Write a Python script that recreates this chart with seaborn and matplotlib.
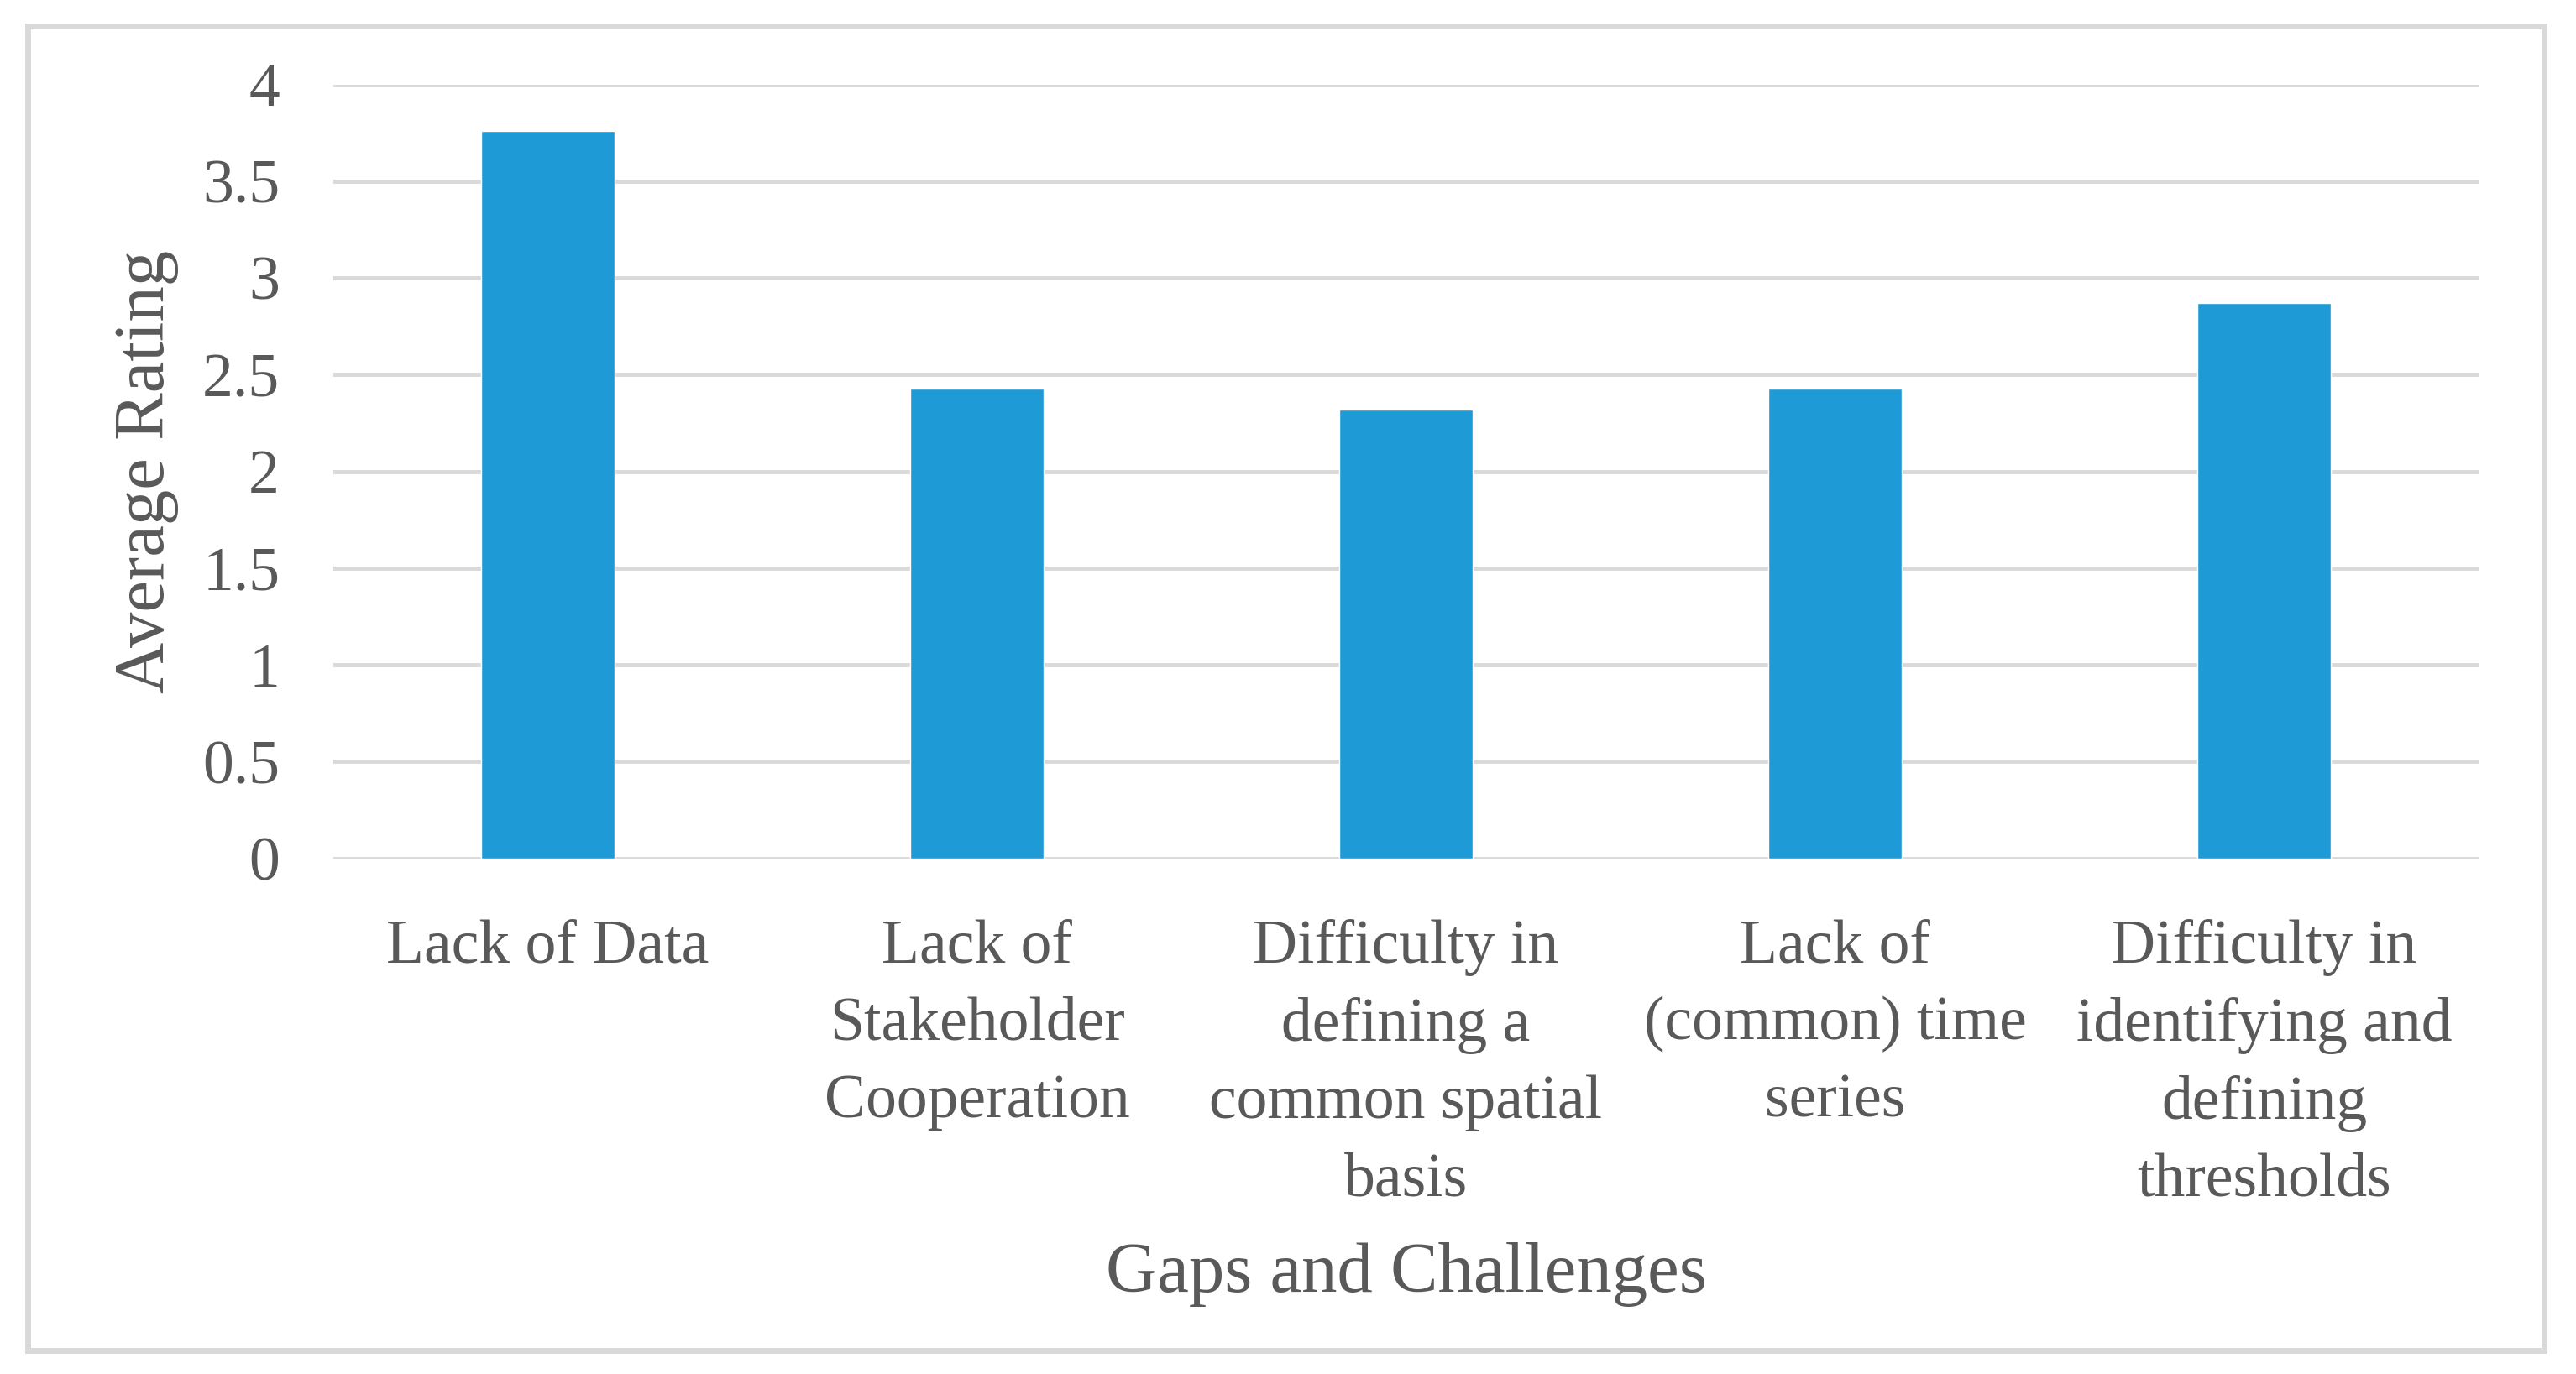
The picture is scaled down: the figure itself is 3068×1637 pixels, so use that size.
import matplotlib
matplotlib.use("Agg")
import matplotlib.pyplot as plt
import seaborn as sns
import pandas as pd
from matplotlib.patches import Rectangle

# data
categories = [
    "Lack of Data",
    "Lack of\nStakeholder\nCooperation",
    "Difficulty in\ndefining a\ncommon spatial\nbasis",
    "Lack of\n(common) time\nseries",
    "Difficulty in\nidentifying and\ndefining\nthresholds",
]
ratings = [3.76, 2.43, 2.32, 2.43, 2.87]
y_ticks = [0, 0.5, 1, 1.5, 2, 2.5, 3, 3.5, 4]
y_tick_labels = ["0", "0.5", "1", "1.5", "2", "2.5", "3", "3.5", "4"]

df = pd.DataFrame({"challenge": categories, "rating": ratings})

sns.set_style("white")
plt.rcParams["font.family"] = ["Liberation Serif", "DejaVu Serif"]
text_color = "#595959"
grid_color = "#d9d9d9"

fig = plt.figure(figsize=(30.68, 16.37), dpi=100)
ax = fig.add_axes([0.1294, 0.3753, 0.8328, 0.5632])

sns.barplot(data=df, x="challenge", y="rating", color="#1E9BD7",
            width=0.31, saturation=1, ax=ax, zorder=3)

ax.set_ylim(0, 4)
ax.set_xlim(-0.5, 4.5)
ax.set_yticks(y_ticks)
ax.set_yticklabels(y_tick_labels)
ax.yaxis.grid(True, color=grid_color, linewidth=3.5, zorder=0)
ax.set_axisbelow(True)
for s in ax.spines.values():
    s.set_visible(False)
ax.tick_params(axis="both", length=0, labelsize=53, labelcolor=text_color)
ax.tick_params(axis="y", pad=46)
ax.tick_params(axis="x", pad=52)
for lbl in ax.get_xticklabels():
    lbl.set_linespacing(1.48)

ax.set_xlabel("Gaps and Challenges", fontsize=61, color=text_color, labelpad=28)
ax.set_ylabel("Average Rating", fontsize=61, color=text_color, labelpad=20)

# light grey frame around the whole chart
fig.patches.append(Rectangle((33 / 3068, 1 - 1609 / 1637), (3030 - 33) / 3068,
                             (1609 - 31) / 1637, transform=fig.transFigure,
                             fill=False, edgecolor=grid_color, linewidth=5))

fig.savefig("out.png", dpi=100)
